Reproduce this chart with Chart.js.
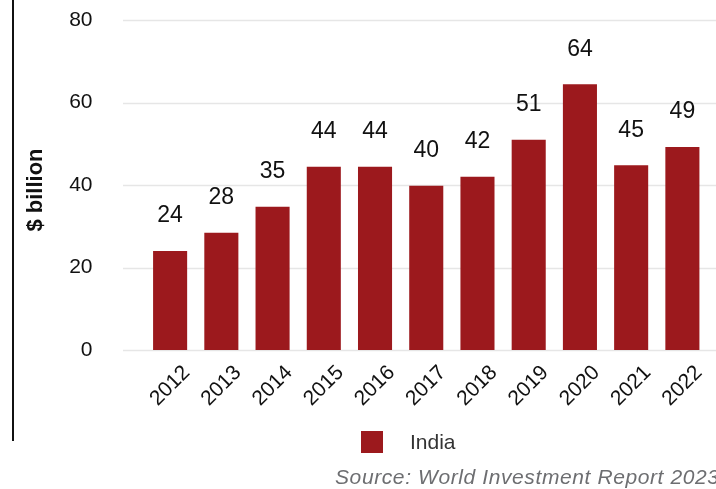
<!DOCTYPE html>
<html lang="en">
<head>
  <meta charset="UTF-8">
  <title>India FDI inflows</title>
  <script src="https://cdn.jsdelivr.net/npm/chart.js"></script>
  <style>
    html, body {
      margin: 0;
      padding: 0;
      background: #fff;
      overflow: hidden;
    }

    .wrap {
      position: relative;
      width: 716px;
      height: 489px;
      font-family: "Liberation Sans", Arial, sans-serif;
    }

    .frame-line {
      position: absolute;
      left: 12px;
      top: 0;
      width: 1.5px;
      height: 441px;
      background: #111;
    }

    .legend {
      position: absolute;
      left: 361px;
      top: 430px;
      display: flex;
      align-items: center;
      font-size: 21px;
      color: #333;
    }

    .legend .swatch {
      width: 22px;
      height: 22px;
      margin-right: 27px;
    }

    .source {
      position: absolute;
      left: 335px;
      top: 465px;
      font-size: 21px;
      font-style: italic;
      letter-spacing: 0.6px;
      color: #6d6e71;
      white-space: nowrap;
    }
  </style>
</head>
<body>

<div class="wrap">
  <canvas id="barChart" width="716" height="489"></canvas>
  <div class="frame-line"></div>
  <div class="legend" id="legend"></div>
  <div class="source">Source: World Investment Report 2023</div>
</div>

<script>
  // FDI inflows to India, $ billion
  const years = ['2012', '2013', '2014', '2015', '2016', '2017', '2018', '2019', '2020', '2021', '2022'];
  const inflows = [24.0, 28.4, 34.7, 44.4, 44.4, 39.8, 42.0, 51.0, 64.4, 44.8, 49.2];
  const yTicks = [0, 20, 40, 60, 80];

  const barColor = '#9c191d';
  const seriesName = 'India';
  const yTitle = '$ billion';
  const FONT = '"Liberation Sans", Arial, sans-serif';

  // grid lines run wider than the bar area, so draw them ourselves
  const gridPlugin = {
    id: 'wideGrid',
    beforeDatasetsDraw(chart) {
      const ctx = chart.ctx;
      const y = chart.scales.y;
      ctx.save();
      ctx.strokeStyle = '#e6e6e6';
      ctx.lineWidth = 1.5;
      yTicks.forEach(v => {
        const py = Math.round(y.getPixelForValue(v)) + 0.5;
        ctx.beginPath();
        ctx.moveTo(123, py);
        ctx.lineTo(chart.width, py);
        ctx.stroke();
      });
      ctx.restore();
    }
  };

  // value labels above bars, rotated year labels centred on each bar, y title
  const labelPlugin = {
    id: 'barLabels',
    afterDatasetsDraw(chart) {
      const ctx = chart.ctx;
      const meta = chart.getDatasetMeta(0);
      const x = chart.scales.x;
      ctx.save();
      ctx.fillStyle = '#111';
      ctx.textAlign = 'center';
      ctx.textBaseline = 'middle';
      ctx.font = '23px ' + FONT;
      meta.data.forEach((bar, i) => {
        ctx.fillText(Math.round(inflows[i]), bar.x, bar.y - 35);
      });

      ctx.font = '21px ' + FONT;
      years.forEach((yr, i) => {
        ctx.save();
        ctx.translate(x.getPixelForValue(i), 386);
        ctx.rotate(-Math.PI / 4);
        ctx.fillText(yr, 0, 0);
        ctx.restore();
      });

      // axis title, sits a little below the middle of the plot
      ctx.font = 'bold 22px ' + FONT;
      ctx.translate(36, 190);
      ctx.rotate(-Math.PI / 2);
      ctx.fillText(yTitle, 0, 0);
      ctx.restore();
    }
  };

  const ctx = document.getElementById('barChart').getContext('2d');
  new Chart(ctx, {
    type: 'bar',
    data: {
      labels: years,
      datasets: [{
        label: seriesName,
        data: inflows,
        backgroundColor: barColor,
        barPercentage: 0.665,
        categoryPercentage: 1.0
      }]
    },
    options: {
      responsive: false,
      animation: false,
      layout: {
        padding: { left: 0, right: 8, top: 20, bottom: 139 }
      },
      plugins: {
        legend: { display: false },
        tooltip: { enabled: false }
      },
      scales: {
        x: {
          display: false
        },
        y: {
          min: 0,
          max: 80,
          afterFit(scale) { scale.width = 144.5; },
          afterBuildTicks(scale) { scale.ticks = yTicks.map(v => ({ value: v })); },
          grid: { display: false, drawTicks: true, tickLength: 52 },
          border: { display: false },
          ticks: {
            padding: 0,
            color: '#111',
            font: { family: FONT, size: 21 }
          }
        }
      }
    },
    plugins: [gridPlugin, labelPlugin]
  });

  // simple html legend from the dataset
  document.getElementById('legend').innerHTML =
    '<span class="swatch" style="background:' + barColor + '"></span><span>' + seriesName + '</span>';
</script>

</body>
</html>
